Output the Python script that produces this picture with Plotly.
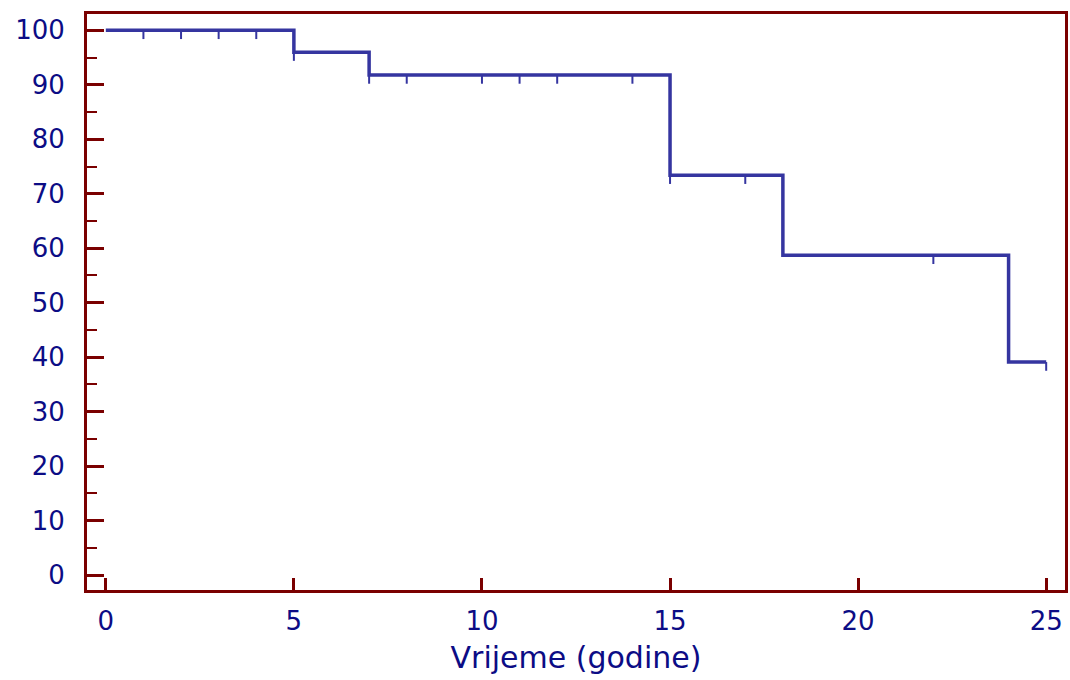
import plotly.graph_objects as go

# Kaplan-Meier step curve (time in years, survival %)
step_times = [0, 5, 7, 15, 18, 24, 25]
step_surv = [100, 96, 91.8, 73.4, 58.7, 39.1, 39.1]

# censored observations
censor_times = [1, 2, 3, 4, 5, 7, 8, 10, 11, 12, 14, 15, 17, 22, 25]
censor_surv = [100, 100, 100, 100, 96, 91.8, 91.8, 91.8, 91.8, 91.8, 91.8, 73.4, 73.4, 58.7, 39.1]

x_ticks = [0, 5, 10, 15, 20, 25]
y_ticks = [0, 10, 20, 30, 40, 50, 60, 70, 80, 90, 100]

AXIS = "#7a0000"
LINE = "#3535a0"
TEXT = "#0c0c85"
FONT = "DejaVu Sans"

fig = go.Figure()
fig.add_trace(go.Scatter(
    x=step_times, y=step_surv, mode="lines", line_shape="hv",
    line=dict(color=LINE, width=3.5), hoverinfo="skip", showlegend=False))
fig.add_trace(go.Scatter(
    x=censor_times, y=censor_surv, mode="markers",
    marker=dict(size=1, color=LINE, opacity=0),
    error_y=dict(type="constant", symmetric=False, value=0, valueminus=1.6,
                 width=0, thickness=2, color=LINE),
    showlegend=False))

fig.update_layout(
    width=1070, height=680,
    margin=dict(l=87, r=5, t=14, b=90, autoexpand=False),
    plot_bgcolor="white", paper_bgcolor="white",
    font=dict(family=FONT, color=TEXT, size=26),
)
fig.update_xaxes(
    range=[-0.5, 25.5], tickvals=x_ticks, showgrid=False, zeroline=False,
    showline=True, linecolor=AXIS, linewidth=3, mirror=True, automargin=False,
    ticks="inside", ticklen=12, tickwidth=3, tickcolor=AXIS,
    tickfont=dict(size=26, color=TEXT, family=FONT), ticklabelstandoff=6,
    title=dict(text="Vrijeme (godine)", font=dict(size=30, color=TEXT, family=FONT), standoff=12),
)
fig.update_yaxes(
    range=[-2.75, 103], tickvals=y_ticks, showgrid=False, zeroline=False,
    showline=True, linecolor=AXIS, linewidth=3, mirror=True, automargin=False,
    ticks="inside", ticklen=17, tickwidth=3, tickcolor=AXIS,
    minor=dict(ticks="inside", ticklen=10, tickwidth=2, tickcolor=AXIS, dtick=5, tick0=0, showgrid=False),
    tickfont=dict(size=26, color=TEXT, family=FONT), ticklabelstandoff=14,
)
fig.write_html("out.html", config={"displayModeBar": False},
               post_script="document.body.style.margin='0';document.body.style.overflow='hidden';")
